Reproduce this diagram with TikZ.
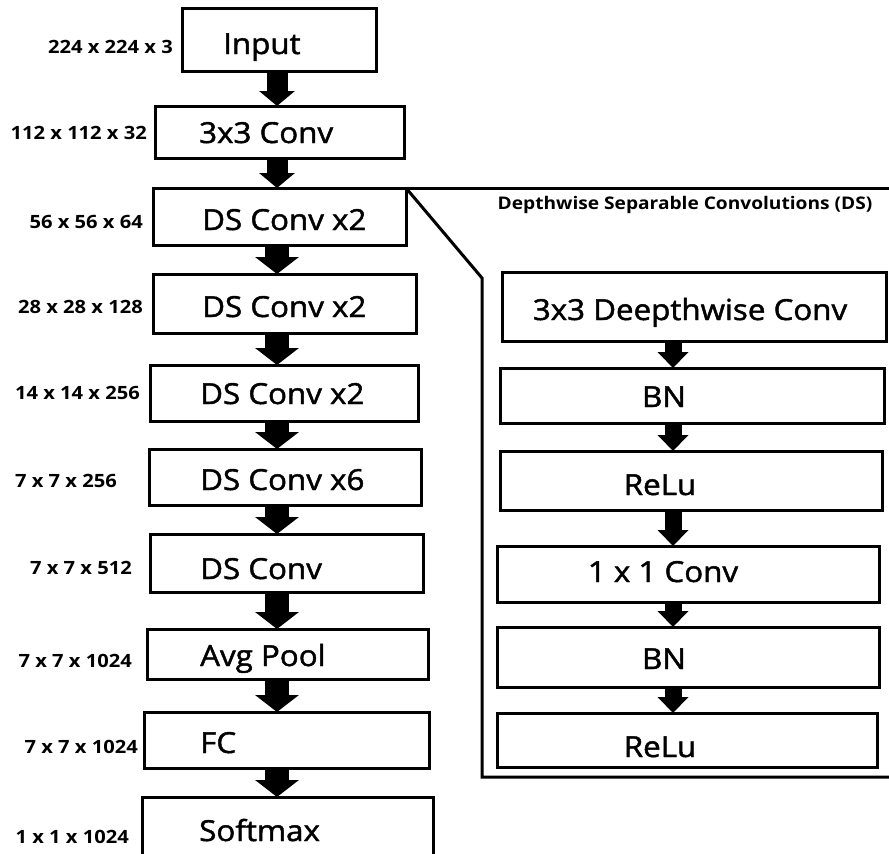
\documentclass[tikz,border=0pt]{standalone}
\usepackage{fontspec}
\setmainfont{Open Sans}[FakeStretch=1.1]
\newfontfamily\boxfont{Open Sans}[FakeStretch=1.08, FakeBold=1.6]
\usetikzlibrary{arrows.meta}
\newcommand\mkbox[5]{\node[box, minimum width={(#4-#2)*1pt}, minimum height={(#5-#3)*1pt}] (#1) at ({(#2+#4)/2},{(#3+#5)/2}) {};}
\begin{document}
\begin{tikzpicture}[x=1pt,y=-1pt,
  box/.style={draw, line width=3pt, rectangle, inner sep=0pt, outer sep=0pt},
  boxtxt/.style={font=\boxfont\fontsize{29}{34}\selectfont, inner sep=0pt},
  lbl/.style={font=\bfseries\fontsize{18.3}{20}\selectfont, inner sep=0pt, anchor=base east},
  ttl/.style={font=\bfseries\fontsize{17.4}{20}\selectfont, inner sep=0pt, anchor=base},
  smallarrow/.style={line width=21pt, -{Triangle[width=35pt,length=15pt]}},
  bigarrow/.style={line width=24pt, -{Triangle[width=43pt,length=17pt]}},
  rarrow/.style={line width=17pt, -{Triangle[width=30pt,length=16pt]}},
  outline/.style={line width=3pt}
]
\useasboundingbox (0,0) rectangle (889,854);
\coordinate (ax) at (277,0);
\coordinate (rx) at (673,0);
% left column boxes
\mkbox{in}{182}{8}{376}{71}
\mkbox{c3}{155}{106}{404}{158}
\mkbox{ds1}{153}{188}{406}{245}
\mkbox{ds2}{153}{274}{416}{333}
\mkbox{ds3}{150}{365}{418}{421}
\mkbox{ds6}{149}{449}{421}{505}
\mkbox{dsc}{150}{534}{423}{592}
\mkbox{avg}{147}{629}{428}{679}
\mkbox{fc}{144}{712}{429}{768}
\mkbox{sm}{142}{797}{433}{870}
% right column boxes
\mkbox{r1}{502}{272}{886}{341}
\mkbox{r2}{500}{368}{884}{423}
\mkbox{r3}{500}{451}{882}{510}
\mkbox{r4}{497}{546}{879}{602}
\mkbox{r5}{497}{627}{879}{687}
\mkbox{r6}{497}{713}{877}{767}
% box texts left
\node[boxtxt, anchor=base west] (tin) at (223,54) {Input};
\node[boxtxt, anchor=base west] (tc3) at (199,143) {3x3 Conv};
\node[boxtxt, anchor=base west] (tds1) at (202,230) {DS Conv x2};
\node[boxtxt, anchor=base west] (tds2) at (202,317) {DS Conv x2};
\node[boxtxt, anchor=base west] (tds3) at (200,404) {DS Conv x2};
\node[boxtxt, anchor=base west] (tds6) at (200,490) {DS Conv x6};
\node[boxtxt, anchor=base west] (tdsc) at (200,579) {DS Conv};
\node[boxtxt, anchor=base west] (tavg) at (200,666) {Avg Pool};
\node[boxtxt, anchor=base west] (tfc) at (200,753) {FC};
\node[boxtxt, anchor=base west] (tsm) at (199,841) {Softmax};
% box texts right
\node[boxtxt, anchor=base] (tr1) at (690,320) {3x3 Deepthwise Conv};
\node[boxtxt, anchor=base] (tr2) at (664,407) {BN};
\node[boxtxt, anchor=base] (tr3) at (660,495) {ReLu};
\node[boxtxt, anchor=base] (tr4) at (663,582) {1 x 1 Conv};
\node[boxtxt, anchor=base] (tr5) at (664,669) {BN};
\node[boxtxt, anchor=base] (tr6) at (660,757) {ReLu};
% size labels
\node[lbl] (l1) at (173,53) {224 x 224 x 3};
\node[lbl] (l2) at (147,139) {112 x 112 x 32};
\node[lbl] (l3) at (143,228) {56 x 56 x 64};
\node[lbl] (l4) at (143,313) {28 x 28 x 128};
\node[lbl] (l5) at (140,399) {14 x 14 x 256};
\node[lbl] (l6) at (117,487) {7 x 7 x 256};
\node[lbl] (l7) at (132,574) {7 x 7 x 512};
\node[lbl] (l8) at (132,667) {7 x 7 x 1024};
\node[lbl] (l9) at (138,753) {7 x 7 x 1024};
\node[lbl] (l10) at (129,843) {1 x 1 x 1024};
% title
\node[ttl] (title) at (685,209) {Depthwise Separable Convolutions (DS)};
% outline of DS detail
\coordinate (otr) at (895,188);
\coordinate (odg) at (482,278);
\coordinate (obl) at (482,777);
\coordinate (obr) at (895,777);
\draw[outline] (ds1.north east) -- (otr);
\draw[outline, line join=miter] (ds1.north east) -- (odg) -- (obl) -- (obr);
% left arrows
\draw[smallarrow] (in.south -| ax) -- (c3.north -| ax);
\draw[smallarrow] (c3.south -| ax) -- (ds1.north -| ax);
\draw[bigarrow] (ds1.south -| ax) -- (ds2.north -| ax);
\draw[bigarrow] (ds2.south -| ax) -- (ds3.north -| ax);
\draw[bigarrow] (ds3.south -| ax) -- (ds6.north -| ax);
\draw[bigarrow] (ds6.south -| ax) -- (dsc.north -| ax);
\draw[bigarrow] (dsc.south -| ax) -- (avg.north -| ax);
\draw[bigarrow] (avg.south -| ax) -- (fc.north -| ax);
\draw[bigarrow] (fc.south -| ax) -- (sm.north -| ax);
% right arrows
\draw[rarrow] (r1.south -| rx) -- (r2.north -| rx);
\draw[rarrow] (r2.south -| rx) -- (r3.north -| rx);
\draw[rarrow] (r3.south -| rx) -- (r4.north -| rx);
\draw[rarrow] (r4.south -| rx) -- (r5.north -| rx);
\draw[rarrow] (r5.south -| rx) -- (r6.north -| rx);
\end{tikzpicture}
\end{document}
